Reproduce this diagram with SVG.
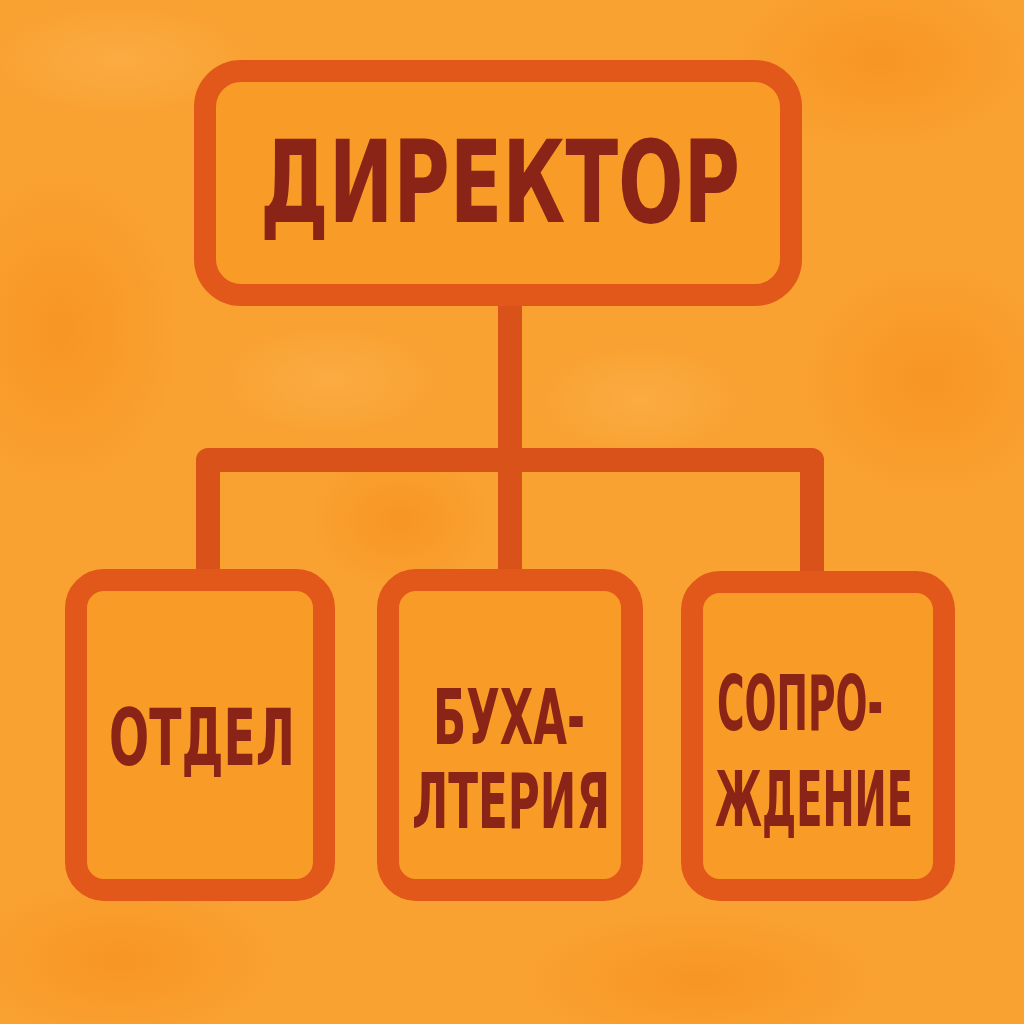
<svg xmlns="http://www.w3.org/2000/svg" width="1024" height="1024" viewBox="0 0 1024 1024">
<defs>
<radialGradient id="blot" cx="50%" cy="50%" r="50%">
<stop offset="0" stop-color="#F7901E" stop-opacity="0.7"/>
<stop offset="1" stop-color="#F7901E" stop-opacity="0"/>
</radialGradient>
<radialGradient id="lite" cx="50%" cy="50%" r="50%">
<stop offset="0" stop-color="#FBB04A" stop-opacity="0.7"/>
<stop offset="1" stop-color="#FBB04A" stop-opacity="0"/>
</radialGradient>
<style>
.box{fill:#F99B27;stroke:#E2581B;stroke-width:22}
.link{fill:none;stroke:#D9521A;stroke-width:24;stroke-linejoin:round}
.lbl{font-family:"Liberation Sans Narrow","DejaVu Sans Condensed","Liberation Sans",sans-serif;font-weight:bold;fill:#8A2417;text-anchor:middle}
</style>
</defs>
<rect width="1024" height="1024" fill="#F9A131"/>
<g id="texture">
<ellipse cx="60" cy="330" rx="120" ry="160" fill="url(#blot)"/>
<ellipse cx="930" cy="380" rx="130" ry="120" fill="url(#blot)"/>
<ellipse cx="880" cy="60" rx="150" ry="90" fill="url(#blot)"/>
<ellipse cx="400" cy="520" rx="90" ry="70" fill="url(#blot)"/>
<ellipse cx="120" cy="960" rx="160" ry="80" fill="url(#blot)"/>
<ellipse cx="700" cy="980" rx="180" ry="70" fill="url(#blot)"/>
<ellipse cx="330" cy="380" rx="120" ry="60" fill="url(#lite)"/>
<ellipse cx="640" cy="400" rx="110" ry="60" fill="url(#lite)"/>
<ellipse cx="120" cy="60" rx="140" ry="60" fill="url(#lite)"/>
</g>
<g id="connectors">
<path class="link" d="M510 300 V460"/>
<path class="link" d="M208 572 V460 H812 V576"/>
<path class="link" d="M510 460 V574"/>
</g>
<g id="director">
<rect class="box" x="205" y="71" width="586" height="224" rx="36"/>
<text class="lbl" x="500" y="222" font-size="114" textLength="480" lengthAdjust="spacingAndGlyphs">ДИРЕКТОР</text>
</g>
<g id="otdel">
<rect class="box" x="76" y="580" width="248" height="310" rx="28"/>
<text class="lbl" x="202" y="765" font-size="78" textLength="186" lengthAdjust="spacingAndGlyphs">ОТДЕЛ</text>
</g>
<g id="buhgalteriya">
<rect class="box" x="388" y="580" width="244" height="310" rx="28"/>
<text class="lbl" x="509" y="744" font-size="76" textLength="152" lengthAdjust="spacingAndGlyphs">БУХА-</text>
<text class="lbl" x="511" y="828" font-size="76" textLength="198" lengthAdjust="spacingAndGlyphs">ЛТЕРИЯ</text>
</g>
<g id="soprovozhdenie">
<rect class="box" x="692" y="582" width="252" height="308" rx="28"/>
<text class="lbl" x="800" y="730" font-size="76" textLength="166" lengthAdjust="spacingAndGlyphs">СОПРО-</text>
<text class="lbl" x="814" y="826" font-size="76" textLength="198" lengthAdjust="spacingAndGlyphs">ЖДЕНИЕ</text>
</g>
</svg>
